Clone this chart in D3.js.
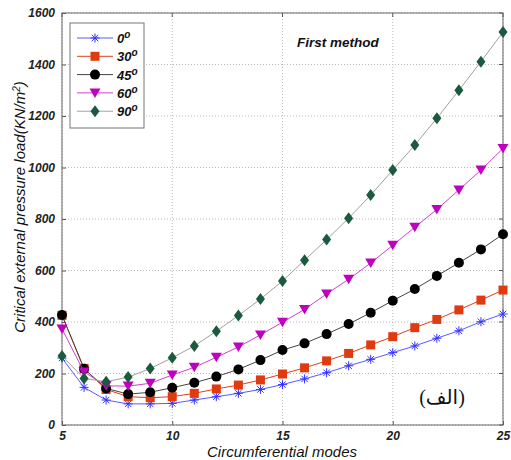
<!DOCTYPE html>
<html><head><meta charset="utf-8">
<script src="https://cdn.jsdelivr.net/npm/d3@7"></script>
<style>body{margin:0;background:#fff;} svg{display:block;}</style>
</head><body>
<svg id="c" width="511" height="460"></svg>
<script>
const modes = d3.range(5, 26);
const s0  = [260,146,97,82,82,84,97,110,123,138,157,179,203,230,255,281,307,337,366,401,431];
const s30 = [426,220,138,110,106,110,123,140,155,175,198,222,249,278,311,343,378,410,447,485,524];
const s45 = [427,218,142,120,127,145,164,188,216,252,291,317,353,392,436,483,528,579,630,682,741];
const s60 = [373,206,152,151,162,194,224,263,303,350,399,449,509,566,629,698,768,837,913,990,1074];
const s90 = [268,181,168,186,219,261,307,364,425,489,559,640,720,803,893,990,1087,1191,1300,1411,1526];
const seriesNames = ["0","30","45","60","90"];
const xTicks = [5,10,15,20,25];
const yTicks = [0,200,400,600,800,1000,1200,1400,1600];

const styles = [
  {data:s0,  line:"#5a5aff", fill:"#3333ff", marker:"star"},
  {data:s30, line:"#e0401a", fill:"#e03a10", marker:"square"},
  {data:s45, line:"#444",    fill:"#000",    marker:"circle"},
  {data:s60, line:"#d040d0", fill:"#c000c0", marker:"tri"},
  {data:s90, line:"#a0a0a0", fill:"#1b5a3e", marker:"diamond"}
];

const svg = d3.select("#c");
const x = d3.scaleLinear().domain([5,25]).range([62,503]);
const y = d3.scaleLinear().domain([0,1600]).range([425,13]);
const FONT = "Liberation Sans, Arial, sans-serif";

// grid
const g = svg.append("g");
g.selectAll(".vg").data(xTicks).join("line")
  .attr("x1",d=>x(d)).attr("x2",d=>x(d)).attr("y1",y(0)).attr("y2",y(1600))
  .attr("stroke","#bbb").attr("stroke-width",1).attr("stroke-dasharray","1,2");
g.selectAll(".hg").data(yTicks).join("line")
  .attr("y1",d=>y(d)).attr("y2",d=>y(d)).attr("x1",x(5)).attr("x2",x(25))
  .attr("stroke","#bbb").attr("stroke-width",1).attr("stroke-dasharray","1,2");

// axes
const xAxis = d3.axisBottom(x).tickValues(xTicks).tickSize(-4).tickPadding(6).tickFormat(d3.format("d"));
const yAxis = d3.axisLeft(y).tickValues(yTicks).tickSize(-4).tickPadding(7).tickFormat(d3.format("d"));
const xa = svg.append("g").attr("transform",`translate(0,${y(0)})`).call(xAxis);
const ya = svg.append("g").attr("transform",`translate(${x(5)},0)`).call(yAxis);
[xa,ya].forEach(a=>{
  a.select(".domain").remove();
  a.selectAll("line").attr("stroke","#555");
  a.selectAll("text").attr("font-family",FONT)
   .attr("font-size",12).attr("font-weight","bold").attr("font-style","italic").attr("fill","#222");
});
// top/right ticks
svg.append("g").selectAll("line").data(xTicks).join("line")
  .attr("x1",d=>x(d)).attr("x2",d=>x(d)).attr("y1",y(1600)).attr("y2",y(1600)+4).attr("stroke","#555");
svg.append("g").selectAll("line").data(yTicks).join("line")
  .attr("y1",d=>y(d)).attr("y2",d=>y(d)).attr("x1",x(25)).attr("x2",x(25)-4).attr("stroke","#555");
// box
svg.append("rect").attr("x",x(5)).attr("y",y(1600)).attr("width",x(25)-x(5)).attr("height",y(0)-y(1600))
  .attr("fill","none").attr("stroke","#666").attr("stroke-width",1);

function drawMarker(sel, type, fill, cx, cy){
  if(type==="star"){
    const r=4.5;
    const p=[];
    for(let i=0;i<4;i++){const a=i*Math.PI/4; p.push(`M${cx-r*Math.cos(a)},${cy-r*Math.sin(a)}L${cx+r*Math.cos(a)},${cy+r*Math.sin(a)}`);}
    sel.append("path").attr("d",p.join("")).attr("stroke",fill).attr("stroke-width",1).attr("fill","none");
  } else if(type==="square"){
    sel.append("rect").attr("x",cx-4.5).attr("y",cy-4.5).attr("width",9).attr("height",9).attr("fill",fill);
  } else if(type==="circle"){
    sel.append("circle").attr("cx",cx).attr("cy",cy).attr("r",5).attr("fill",fill);
  } else if(type==="tri"){
    sel.append("path").attr("d",`M${cx-5.5},${cy-4.5}L${cx+5.5},${cy-4.5}L${cx},${cy+5}Z`).attr("fill",fill);
  } else if(type==="diamond"){
    sel.append("path").attr("d",`M${cx},${cy-6}L${cx+4.5},${cy}L${cx},${cy+6}L${cx-4.5},${cy}Z`).attr("fill",fill);
  }
}

const line = d3.line().x((d,i)=>x(modes[i])).y(d=>y(d));
styles.forEach(s=>{
  const gs = svg.append("g");
  gs.append("path").attr("d",line(s.data)).attr("fill","none").attr("stroke",s.line).attr("stroke-width",1);
  s.data.forEach((v,i)=>drawMarker(gs,s.marker,s.fill,x(modes[i]),y(v)));
});

// legend
const lg = svg.append("g");
lg.append("rect").attr("x",70).attr("y",23).attr("width",74).attr("height",105).attr("fill","#fff").attr("stroke","#777");
styles.forEach((s,i)=>{
  const ly = 38 + i*18.3;
  lg.append("line").attr("x1",77).attr("x2",113).attr("y1",ly).attr("y2",ly).attr("stroke",s.line).attr("stroke-width",1);
  drawMarker(lg,s.marker,s.fill,95,ly);
  const t = lg.append("text").attr("x",117).attr("y",ly+5)
    .attr("font-family",FONT).attr("font-size",13)
    .attr("font-weight","bold").attr("font-style","italic").attr("fill","#111");
  t.append("tspan").text(seriesNames[i]);
  t.append("tspan").attr("dy",-5).attr("font-size",10).text("o");
});

// annotations
svg.append("text").attr("x",297).attr("y",47).text("First method")
  .attr("font-family",FONT).attr("font-size",13.5)
  .attr("font-weight","bold").attr("font-style","italic").attr("fill","#111");
svg.append("text").attr("x",442).attr("y",404).attr("text-anchor","middle").text("(الف)")
  .attr("font-family","Liberation Serif, DejaVu Sans, serif").attr("font-size",20).attr("fill","#111");

// axis titles
svg.append("text").attr("x",282).attr("y",457).attr("text-anchor","middle").text("Circumferential modes")
  .attr("font-family",FONT).attr("font-size",15)
  .attr("font-style","italic").attr("fill","#111");
const yt = svg.append("text").attr("transform","translate(25,207) rotate(-90)").attr("text-anchor","middle")
  .attr("font-family",FONT).attr("font-size",15)
  .attr("font-style","italic").attr("fill","#111");
yt.append("tspan").text("Critical external pressure load(KN/m");
yt.append("tspan").attr("dy",-5).attr("font-size",10).text("2");
yt.append("tspan").attr("dy",5).text(")");
</script>
</body></html>
